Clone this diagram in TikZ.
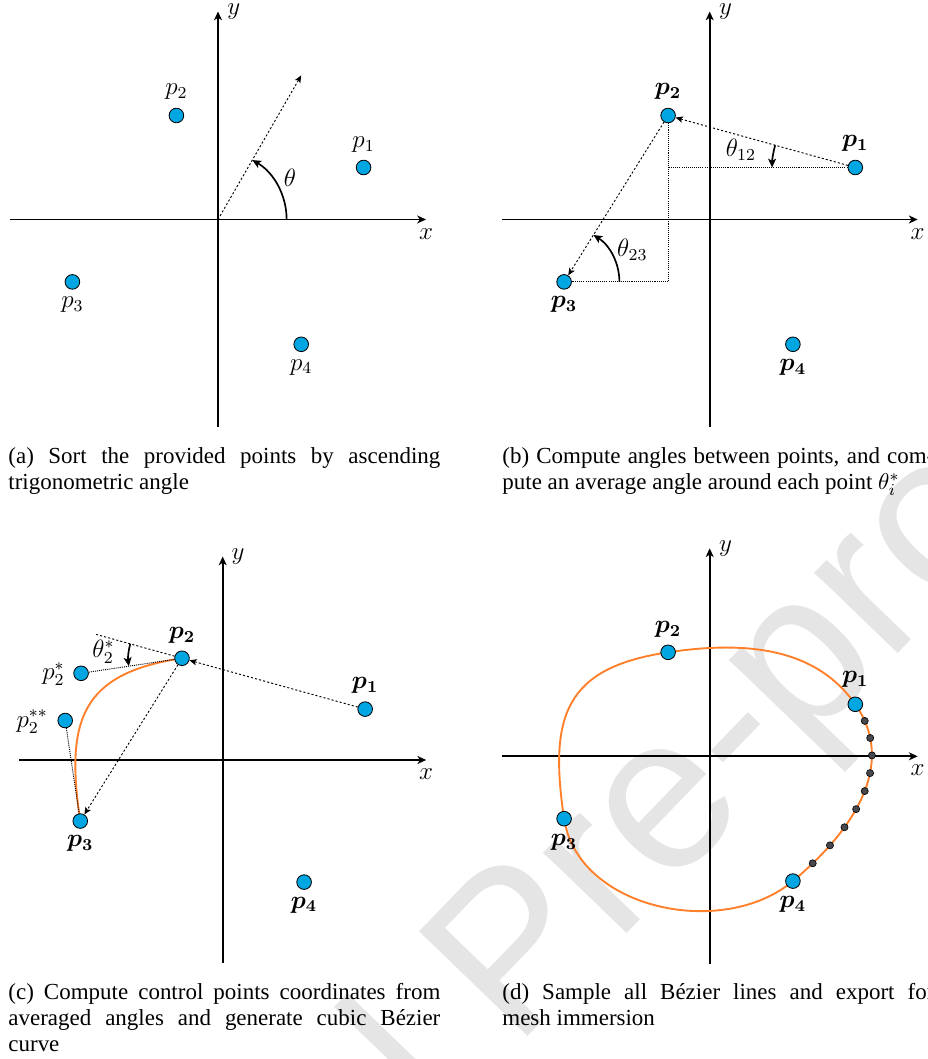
\documentclass[tikz,border=0pt]{standalone}
\usepackage[no-math]{fontspec}
\setmainfont{Liberation Serif}
\newfontfamily\wmfont{Liberation Sans}
\usepackage{bm}
\usetikzlibrary{arrows.meta,calc}
\definecolor{ptblue}{RGB}{0,166,226}
\definecolor{curveorange}{RGB}{255,127,42}
\definecolor{sampgray}{RGB}{70,72,78}
\definecolor{wmgray}{RGB}{229,229,229}
\tikzset{
  axisline/.style={line width=0.8pt,-{Stealth[length=4.2pt,width=3.8pt,inset=1.2pt]}},
  ptdot/.style={circle,draw=black,fill=ptblue,inner sep=0pt,minimum size=7pt,line width=0.4pt},
  sampdot/.style={circle,draw=black,fill=sampgray,inner sep=0pt,minimum size=3.4pt,line width=0.3pt},
  conn/.style={line width=0.45pt,dash pattern=on 1pt off 1pt,-{Stealth[length=3.5pt,width=3pt,inset=0.8pt]}},
  connline/.style={line width=0.45pt,dash pattern=on 1pt off 1pt},
  guide/.style={line width=0.45pt,dash pattern=on 0.5pt off 0.5pt},
  anglearc/.style={line width=0.8pt,-{Stealth[length=4.2pt,width=3.8pt,inset=1pt]}},
  lbl/.style={inner sep=0pt,font=\fontsize{11.5}{13}\selectfont},
  bez/.style={curveorange,line width=0.9pt},
  captext/.style={anchor=north west,inner sep=0pt,text width=206.8pt,align=justify,font=\fontsize{11}{12.45}\selectfont},
}
\begin{document}
\begin{tikzpicture}[x=0.47877pt,y=0.47877pt]
\useasboundingbox (0,0) rectangle (927,1059);
% watermark
\node[wmgray,rotate=46,inner sep=0pt,font=\wmfont\fontsize{105}{105}\selectfont] (wm) at (521,97) {Journal Pre-proof};

% ---------------- panel (a)
\begin{scope}[shift={(218,839.5)},x=19.917pt,y=19.917pt]
  \coordinate (aO) at (0,0);
  \coordinate (aXl) at (-5,0); \coordinate (aXr) at (5,0);
  \coordinate (aYb) at (0,-5); \coordinate (aYt) at (0,5);
  \coordinate (aD) at (60:4);
  \draw[axisline] (aXl) -- (aXr);
  \draw[axisline] (aYb) -- (aYt);
  \node[lbl] (ax) at ($(aXr)+(0,-0.34)$) {$x$};
  \node[lbl] (ay) at ($(aYt)+(0.38,0)$) {$y$};
  \draw[conn] (aO) -- (aD);
  \draw[anglearc] (1.65,0) arc[start angle=0,end angle=60,radius=1.65];
  \node[lbl] (ath) at (30:2) {$\theta$};
  \node[ptdot] (ap1) at (3.5,1.25) {};
  \node[ptdot] (ap2) at (-1,2.5) {};
  \node[ptdot] (ap3) at (-3.5,-1.5) {};
  \node[ptdot] (ap4) at (2,-3) {};
  \node[lbl] (ap1l) at ($(ap1)+(0,0.55)$) {$p_1$};
  \node[lbl] (ap2l) at ($(ap2)+(0,0.57)$) {$p_2$};
  \node[lbl] (ap3l) at ($(ap3)+(0,-0.55)$) {$p_3$};
  \node[lbl] (ap4l) at ($(ap4)+(0,-0.55)$) {$p_4$};
\end{scope}

% ---------------- panel (b)
\begin{scope}[shift={(709.7,839.5)},x=19.917pt,y=19.917pt]
  \coordinate (bXl) at (-5,0); \coordinate (bXr) at (5,0);
  \coordinate (bYb) at (0,-5); \coordinate (bYt) at (0,5);
  \draw[axisline] (bXl) -- (bXr);
  \draw[axisline] (bYb) -- (bYt);
  \node[lbl] (bx) at ($(bXr)+(0,-0.34)$) {$x$};
  \node[lbl] (by) at ($(bYt)+(0.38,0)$) {$y$};
  \node[ptdot] (bp1) at (3.5,1.25) {};
  \node[ptdot] (bp2) at (-1,2.5) {};
  \node[ptdot] (bp3) at (-3.5,-1.5) {};
  \node[ptdot] (bp4) at (2,-3) {};
  \draw[guide] (bp1) -- (bp2 |- bp1);
  \draw[guide] (bp2) -- (bp2 |- bp3) -- (bp3);
  \draw[conn] (bp1) -- (bp2);
  \draw[conn] (bp2) -- (bp3);
  \draw[anglearc] ($(bp1)+(164.48:2)$) arc[start angle=164.48,end angle=180,radius=2];
  \draw[anglearc] ($(bp3)+(1.33,0)$) arc[start angle=0,end angle=57.99,radius=1.33];
  \node[lbl] (bt12) at (0.75,1.67) {$\theta_{12}$};
  \node[lbl] (bt23) at (-1.86,-0.73) {$\theta_{23}$};
  \node[lbl] (bp1l) at ($(bp1)+(0,0.57)$) {$\bm{p_1}$};
  \node[lbl] (bp2l) at ($(bp2)+(0,0.57)$) {$\bm{p_2}$};
  \node[lbl] (bp3l) at ($(bp3)+(0,-0.55)$) {$\bm{p_3}$};
  \node[lbl] (bp4l) at ($(bp4)+(0,-0.55)$) {$\bm{p_4}$};
\end{scope}

% ---------------- panel (c)
\begin{scope}[shift={(222.7,299)},x=19.486pt,y=19.486pt]
  \coordinate (cXl) at (-5,0); \coordinate (cXr) at (5,0);
  \coordinate (cYb) at (0,-5); \coordinate (cYt) at (0,5);
  \coordinate (c1) at (3.5,1.25);
  \coordinate (c2) at (-1,2.5);
  \coordinate (c3) at (-3.5,-1.5);
  \coordinate (c4) at (2,-3);
  \coordinate (cs) at (-3.48,2.13);
  \coordinate (css) at (-3.87,0.97);
  \coordinate (cE) at (-3.142,3.095);
  \draw[axisline] (cXl) -- (cXr);
  \draw[axisline] (cYb) -- (cYt);
  \node[lbl] (cx) at ($(cXr)+(0,-0.34)$) {$x$};
  \node[lbl] (cy) at ($(cYt)+(0.38,0)$) {$y$};
  \draw[bez] (c2) .. controls (cs) and (css) .. (c3);
  \node[ptdot] (cp1) at (c1) {};
  \node[ptdot] (cp2) at (c2) {};
  \node[ptdot] (cp3) at (c3) {};
  \node[ptdot] (cp4) at (c4) {};
  \node[ptdot] (cps) at (cs) {};
  \node[ptdot] (cpss) at (css) {};
  \draw[conn] (cp1) -- (cp2);
  \draw[connline] (cp2) -- (cE);
  \draw[conn] (cp2) -- (cp3);
  \draw[guide] (cps) -- (cp2);
  \draw[guide] (cpss) -- (cp3);
  \draw[anglearc] ($(c2)+(164.48:1.32)$) arc[start angle=164.48,end angle=188.49,radius=1.32];
  \node[lbl] (ct2) at (-2.93,2.66) {$\theta_2^*$};
  \node[lbl] (cpsl) at (-4.16,2.11) {$p_2^*$};
  \node[lbl] (cpssl) at (-4.68,0.94) {$p_2^{**}$};
  \node[lbl] (cp1l) at ($(cp1)+(0,0.59)$) {$\bm{p_1}$};
  \node[lbl] (cp2l) at ($(cp2)+(0,0.55)$) {$\bm{p_2}$};
  \node[lbl] (cp3l) at ($(cp3)+(0,-0.55)$) {$\bm{p_3}$};
  \node[lbl] (cp4l) at ($(cp4)+(0,-0.56)$) {$\bm{p_4}$};
\end{scope}

% ---------------- panel (d)
\begin{scope}[shift={(709.7,302.7)},x=19.917pt,y=19.917pt]
  \coordinate (dXl) at (-5,0); \coordinate (dXr) at (5,0);
  \coordinate (dYb) at (0,-5); \coordinate (dYt) at (0,5);
  \coordinate (d1) at (3.5,1.25);
  \coordinate (d2) at (-1,2.5);
  \coordinate (d3) at (-3.5,-1.5);
  \coordinate (d4) at (2,-3);
  \draw[axisline] (dXl) -- (dXr);
  \draw[axisline] (dYb) -- (dYt);
  \node[lbl] (dx) at ($(dXr)+(0,-0.34)$) {$x$};
  \node[lbl] (dy) at ($(dYt)+(0.38,0)$) {$y$};
  \draw[bez] (d1) .. controls (2.582,2.561) and (0.978,2.796) .. (d2)
     .. controls (-3.48,2.13) and (-3.87,0.97) .. (d3)
     .. controls (-3.174,-3.676) and (0.31,-4.41) .. (d4)
     .. controls (3.685,-1.585) and (4.418,-0.061) .. (d1) -- cycle;
  \path (d4) .. controls (3.685,-1.585) and (4.418,-0.061) .. (d1)
     node[sampdot,pos=0.1] (s1) {} node[sampdot,pos=0.2] (s2) {}
     node[sampdot,pos=0.3] (s3) {} node[sampdot,pos=0.4] (s4) {}
     node[sampdot,pos=0.5] (s5) {} node[sampdot,pos=0.6] (s6) {}
     node[sampdot,pos=0.7] (s7) {} node[sampdot,pos=0.8] (s8) {}
     node[sampdot,pos=0.9] (s9) {};
  \node[ptdot] (dp1) at (d1) {};
  \node[ptdot] (dp2) at (d2) {};
  \node[ptdot] (dp3) at (d3) {};
  \node[ptdot] (dp4) at (d4) {};
  \node[lbl] (dp1l) at ($(dp1)+(0,0.6)$) {$\bm{p_1}$};
  \node[lbl] (dp2l) at ($(dp2)+(0,0.55)$) {$\bm{p_2}$};
  \node[lbl] (dp3l) at ($(dp3)+(0,-0.57)$) {$\bm{p_3}$};
  \node[lbl] (dp4l) at ($(dp4)+(0,-0.57)$) {$\bm{p_4}$};
\end{scope}

% ---------------- captions
\node[captext] (capa) at (8,612) {(a) Sort the provided points by ascending\linebreak trigonometric angle};
\node[captext] (capb) at (502,612) {(b) Compute angles between points, and com-\linebreak pute an average angle around each point $\theta_i^*$};
\node[captext] (capc) at (8,76) {(c) Compute control points coordinates from\linebreak averaged angles and generate cubic Bézier\linebreak curve};
\node[captext] (capd) at (502,76) {(d) Sample all Bézier lines and export for\linebreak mesh immersion};
\end{tikzpicture}
\end{document}
